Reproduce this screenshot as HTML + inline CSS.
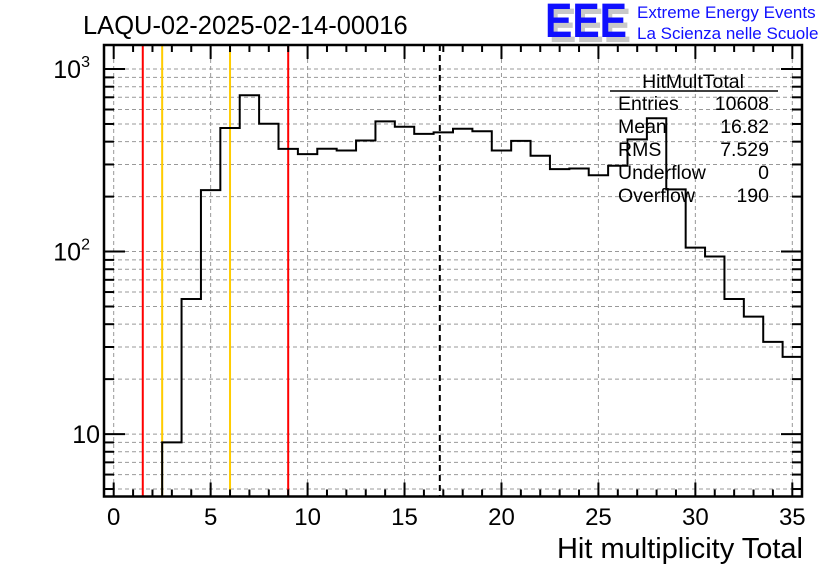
<!DOCTYPE html>
<html><head><meta charset="utf-8"><style>
html,body{margin:0;padding:0;background:#fff;}
svg{display:block;font-family:"Liberation Sans",Arial,sans-serif;}
</style></head><body>
<svg id="chart" width="836" height="572" viewBox="0 0 836 572" xmlns="http://www.w3.org/2000/svg">
<text x="83" y="34" font-size="25.5">LAQU-02-2025-02-14-00016</text>
<g>
<text x="549" y="42" font-size="48" font-weight="bold" fill="#c8c8c8" textLength="82" lengthAdjust="spacingAndGlyphs">EEE</text>
<text x="545" y="37" font-size="48" font-weight="bold" fill="#1010ff" textLength="82" lengthAdjust="spacingAndGlyphs">EEE</text>
<text x="637" y="18" font-size="17" fill="#1010ff">Extreme Energy Events</text>
<text x="637" y="39" font-size="17" fill="#1010ff">La Scienza nelle Scuole</text>
</g>
<g id="grid"></g>
<g id="marks"></g>
<g id="axes"></g>
<g font-size="19.5">
<text x="693" y="88" text-anchor="middle">HitMultTotal</text>
<line x1="610" y1="91" x2="778" y2="91" stroke="#000" stroke-width="1.5"/>
<text x="618" y="110">Entries</text><text x="769" y="110" text-anchor="end">10608</text>
<text x="618" y="133">Mean</text><text x="769" y="133" text-anchor="end">16.82</text>
<text x="618" y="156">RMS</text><text x="769" y="156" text-anchor="end">7.529</text>
<text x="618" y="179">Underflow</text><text x="769" y="179" text-anchor="end">0</text>
<text x="618" y="202">Overflow</text><text x="769" y="202" text-anchor="end">190</text>
</g>
<text x="803" y="558" font-size="29" text-anchor="end">Hit multiplicity Total</text>
</svg>
<script>
const binCenters = [3,4,5,6,7,8,9,10,11,12,13,14,15,16,17,18,19,20,21,22,23,24,25,26,27,28,29,30,31,32,33,34,35];
const counts = [9,55,217,475,718,501,365,342,366,358,406,517,483,441,450,471,456,358,404,335,283,285,262,295,412,537,219,105,94,55,44,32,26.5];
const xTicks = [0,5,10,15,20,25,30,35];
const yTickExp = [1,2,3];
const redLines = [1.5,9];
const orangeLines = [2.5,6];
const meanValue = 16.82;

const NS="http://www.w3.org/2000/svg";
const L=104,R=802,T=45,B=496.5;
const xMin=-0.5,xMax=35.5;
const yLogMin=Math.log10(4.55), yLogMax=Math.log10(1354);
function sx(v){return L+(v-xMin)/(xMax-xMin)*(R-L);}
function sy(v){return B-(Math.log10(v)-yLogMin)/(yLogMax-yLogMin)*(B-T);}
function mk(tag,attrs,parent){const e=document.createElementNS(NS,tag);for(const k in attrs)e.setAttribute(k,attrs[k]);parent.appendChild(e);return e;}
const grid=document.getElementById('grid'),marks=document.getElementById('marks'),axes=document.getElementById('axes');

xTicks.forEach(t=>{const l=mk('line',{x1:sx(t),x2:sx(t),y1:T,y2:B,stroke:'#999','stroke-dasharray':'4,3','stroke-width':1},grid);

});
for(let e=0;e<=3;e++)for(let m=1;m<=9;m++){const v=m*Math.pow(10,e);const y=sy(v);if(y<T||y>B)continue;
const l=mk('line',{x1:L,x2:R,y1:y,y2:y,stroke:'#999','stroke-dasharray':'4,3','stroke-width':1},grid);

}

redLines.forEach(v=>{const l=mk('line',{x1:sx(v),x2:sx(v),y1:T,y2:B,stroke:'#ff0000','stroke-width':2},marks);

});
orangeLines.forEach(v=>{const l=mk('line',{x1:sx(v),x2:sx(v),y1:T,y2:B,stroke:'#ffcc00','stroke-width':2},marks);

});
const ml=mk('line',{x1:sx(meanValue),x2:sx(meanValue),y1:T,y2:B,stroke:'#000','stroke-width':2,'stroke-dasharray':'6,4'},marks);



let d='';
binCenters.forEach((c,i)=>{const x0=sx(c-0.5),x1=sx(c+0.5),y=Math.min(sy(counts[i]),B);
if(i===0)d+=`M${x0},${B}`;d+=`L${x0},${y}L${x1},${y}`;});
const hp=mk('path',{d:d,fill:'none',stroke:'#000','stroke-width':2},marks);



const fr=mk('rect',{x:L,y:T,width:R-L,height:B-T,fill:'none',stroke:'#000','stroke-width':2.5},axes);


for(let v=0;v<=35;v++){const maj=v%5===0;const len=maj?14:7;const x=sx(v);
mk('line',{x1:x,x2:x,y1:B,y2:B-len,stroke:'#000','stroke-width':2},axes);
mk('line',{x1:x,x2:x,y1:T,y2:T+len,stroke:'#000','stroke-width':2},axes);}
xTicks.forEach(t=>{const tx=mk('text',{x:sx(t),y:525,'font-size':24,'text-anchor':'middle'},axes);tx.textContent=t;

});
for(let e=0;e<=3;e++)for(let m=1;m<=9;m++){const v=m*Math.pow(10,e);const y=sy(v);if(y<T||y>B)continue;const len=m===1?21:10;
mk('line',{x1:L,x2:L+len,y1:y,y2:y,stroke:'#000','stroke-width':2},axes);
mk('line',{x1:R,x2:R-len,y1:y,y2:y,stroke:'#000','stroke-width':2},axes);}
yTickExp.forEach(e=>{const y=sy(Math.pow(10,e));
const g=mk('text',{x:e===1?100:90,y:y+9,'font-size':25,'text-anchor':'end'},axes);


if(e===1){g.textContent='10';}else{g.textContent='10';const s=mk('tspan',{dy:-11,'font-size':16},g);s.textContent=e;}});
</script>
</body></html>
